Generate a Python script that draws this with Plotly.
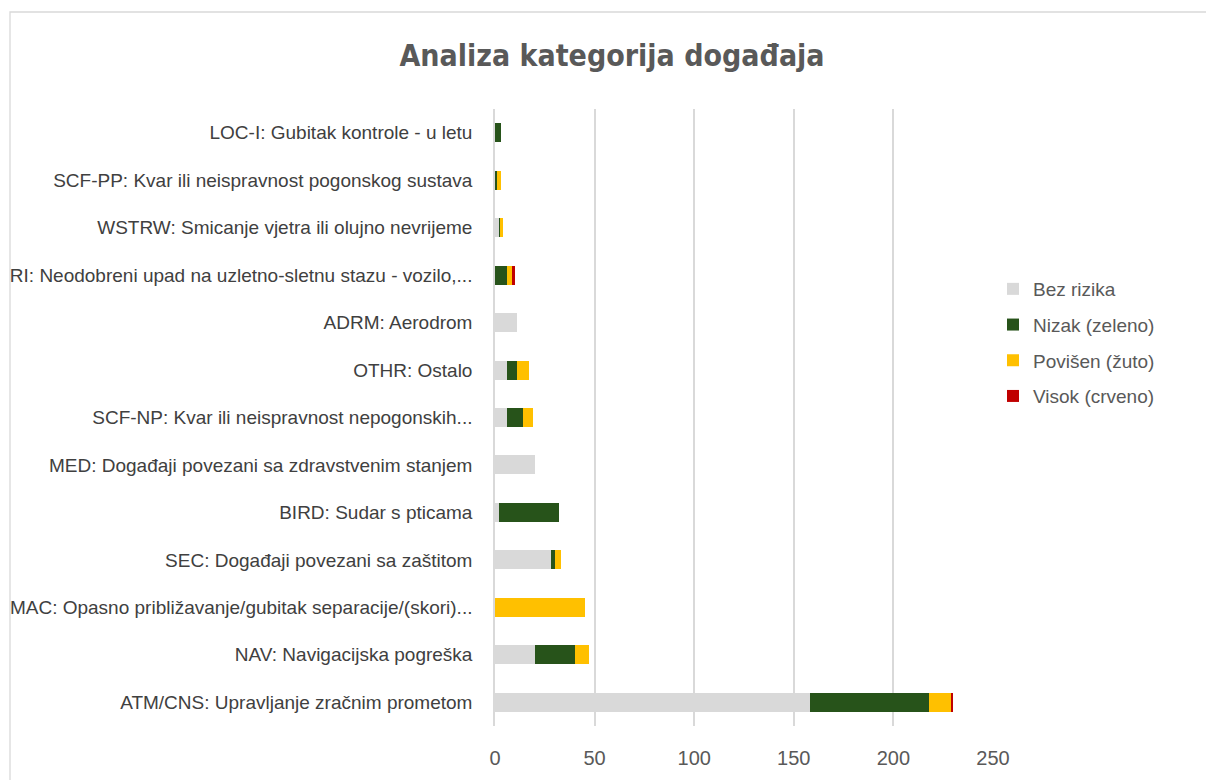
import plotly.graph_objects as go

# categories from bottom to top
kategorije = [
    "ATM/CNS: Upravljanje zračnim prometom",
    "NAV: Navigacijska pogreška",
    "MAC: Opasno približavanje/gubitak separacije/(skori)...",
    "SEC: Događaji povezani sa zaštitom",
    "BIRD: Sudar s pticama",
    "MED: Događaji povezani sa zdravstvenim stanjem",
    "SCF-NP: Kvar ili neispravnost nepogonskih...",
    "OTHR: Ostalo",
    "ADRM: Aerodrom",
    "RI: Neodobreni upad na uzletno-sletnu stazu - vozilo,...",
    "WSTRW: Smicanje vjetra ili olujno nevrijeme",
    "SCF-PP: Kvar ili neispravnost pogonskog sustava",
    "LOC-I: Gubitak kontrole - u letu",
]
bez_rizika = [158, 20, 0, 28, 2, 20, 6, 6, 11, 0, 2, 0, 0]
nizak = [60, 20, 0, 2, 30, 0, 8, 5, 0, 6, 1, 1, 3]
povisen = [11, 7, 45, 3, 0, 0, 5, 6, 0, 3, 1, 2, 0]
visok = [1, 0, 0, 0, 0, 0, 0, 0, 0, 1, 0, 0, 0]

serije = [
    ("Bez rizika", bez_rizika, "#d9d9d9"),
    ("Nizak (zeleno)", nizak, "#27531a"),
    ("Povišen (žuto)", povisen, "#ffc000"),
    ("Visok (crveno)", visok, "#c00000"),
]

fig = go.Figure()
for i, (ime, vrijednosti, boja) in enumerate(serije):
    fig.add_trace(go.Bar(
        y=kategorije,
        x=vrijednosti,
        name=ime,
        orientation="h",
        marker=dict(color=boja, line=dict(width=0)),
        legendgroup=str(i),
    ))

# plot area in pixels: x 495..993, y 109..726
L, R, T, B = 495, 993, 109, 726
W, H = 1206, 780
pw, ph = R - L, B - T

def px(x):
    return (x - L) / pw

def py(y):
    return (B - y) / ph

fig.update_layout(
    width=W,
    height=H,
    barmode="stack",
    bargap=0.6,
    margin=dict(l=L, r=W - R, t=T, b=H - B, autoexpand=False),
    paper_bgcolor="white",
    plot_bgcolor="white",
    font=dict(family="Liberation Sans, Arial, sans-serif", size=19, color="#404040"),
    title=dict(
        text="<b>Analiza kategorija događaja</b>",
        font=dict(family="Liberation Sans Narrow, DejaVu Sans Condensed, sans-serif",
                  size=30, color="#595959"),
        x=612 / W,
        xanchor="center",
        y=1 - 55 / H,
        yanchor="middle",
    ),
    legend=dict(
        x=px(993),
        xanchor="left",
        y=py(270),
        yanchor="top",
        traceorder="grouped",
        tracegroupgap=8,
        font=dict(size=19, color="#595959"),
        itemwidth=30,
        bgcolor="rgba(0,0,0,0)",
    ),
    shapes=[dict(
        type="rect", xref="paper", yref="paper",
        x0=px(10), x1=px(1215), y0=py(790), y1=py(12),
        line=dict(color="#d9d9d9", width=1.3),
        fillcolor="rgba(0,0,0,0)",
        layer="below",
    )],
)

fig.update_xaxes(
    range=[0, 250],
    dtick=50,
    showgrid=True,
    gridcolor="#d9d9d9",
    gridwidth=1.5,
    zeroline=False,
    showline=False,
    tickfont=dict(size=20, color="#595959"),
    ticklabelstandoff=18,
    automargin=False,
    fixedrange=True,
)
fig.update_yaxes(
    showgrid=False,
    showline=True,
    linecolor="#d9d9d9",
    linewidth=1.5,
    tickfont=dict(size=19, color="#404040"),
    ticklabelstandoff=17,
    automargin=False,
    fixedrange=True,
)

fig.write_html("out.html", config={"displayModeBar": False},
               post_script="document.body.style.margin='0';")
